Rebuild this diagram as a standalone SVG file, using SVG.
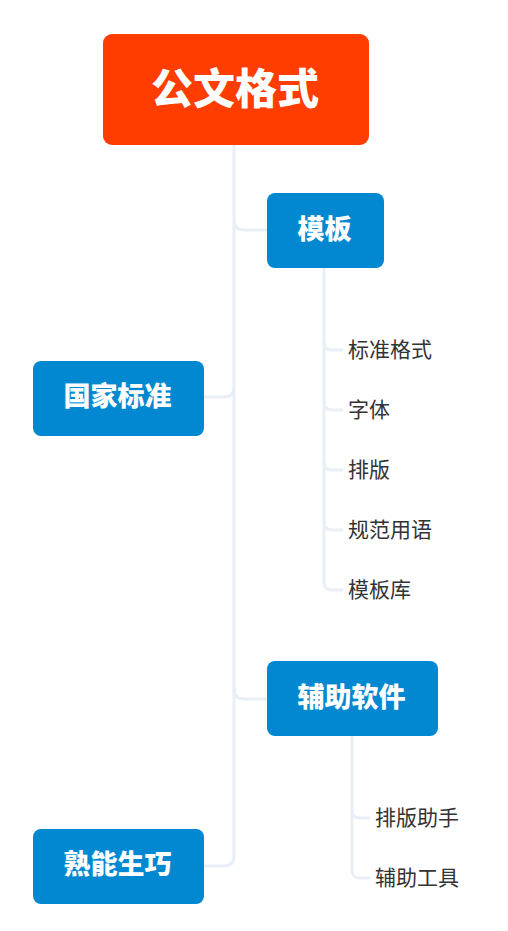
<svg xmlns="http://www.w3.org/2000/svg" width="508" height="931" viewBox="0 0 508 931">
<style>
.conn{fill:none;stroke:#E8EFF6;stroke-width:3;stroke-linecap:round;stroke-linejoin:round}
.root{fill:#FF3D00}
.main{fill:#0288D1}
.t{font-family:"Noto Sans CJK SC","Noto Sans",sans-serif;dominant-baseline:central;text-anchor:middle}
.rt{fill:#FFFFFF;font-size:42px;font-weight:900}
.mt{fill:#FFFFFF;font-size:27px;font-weight:900}
.st{fill:#333333;font-size:21px;text-anchor:start}
</style>
<rect width="508" height="931" fill="#FFFFFF"/>
<g id="connectors">
<path class="conn" d="M234 145 V856 Q234 866 224 866 H204"/>
<path class="conn" d="M234 220 Q234 230 244 230 H267"/>
<path class="conn" d="M234 387 Q234 397 224 397 H204"/>
<path class="conn" d="M234 689 Q234 699 244 699 H267"/>
<path class="conn" d="M324 268 V582 Q324 590 332 590 H342"/>
<path class="conn" d="M324 342 Q324 350 332 350 H342"/>
<path class="conn" d="M324 402 Q324 410 332 410 H342"/>
<path class="conn" d="M324 462 Q324 470 332 470 H342"/>
<path class="conn" d="M324 522 Q324 530 332 530 H342"/>
<path class="conn" d="M352 736 V870 Q352 878 360 878 H369"/>
<path class="conn" d="M352 810 Q352 818 360 818 H369"/>
</g>
<g id="root">
<rect class="root" x="103" y="34" width="266" height="111" rx="9"/>
<text class="t rt" x="235" y="85">公文格式</text>
</g>
<g id="n-muban">
<rect class="main" x="267" y="193" width="117" height="75" rx="8"/>
<text class="t mt" x="324.5" y="227">模板</text>
</g>
<g id="n-guojia">
<rect class="main" x="33" y="361" width="171" height="75" rx="8"/>
<text class="t mt" x="117.5" y="394">国家标准</text>
</g>
<g id="n-fuzhu">
<rect class="main" x="267" y="661" width="171" height="75" rx="8"/>
<text class="t mt" x="351.5" y="695">辅助软件</text>
</g>
<g id="n-shu">
<rect class="main" x="33" y="829" width="171" height="75" rx="8"/>
<text class="t mt" x="117.5" y="862">熟能生巧</text>
</g>
<g id="n-c1"><text class="t st" x="348" y="348">标准格式</text></g>
<g id="n-c2"><text class="t st" x="348" y="408">字体</text></g>
<g id="n-c3"><text class="t st" x="348" y="468">排版</text></g>
<g id="n-c4"><text class="t st" x="348" y="528">规范用语</text></g>
<g id="n-c5"><text class="t st" x="348" y="588">模板库</text></g>
<g id="n-c6"><text class="t st" x="375" y="816">排版助手</text></g>
<g id="n-c7"><text class="t st" x="375" y="876">辅助工具</text></g>
</svg>
